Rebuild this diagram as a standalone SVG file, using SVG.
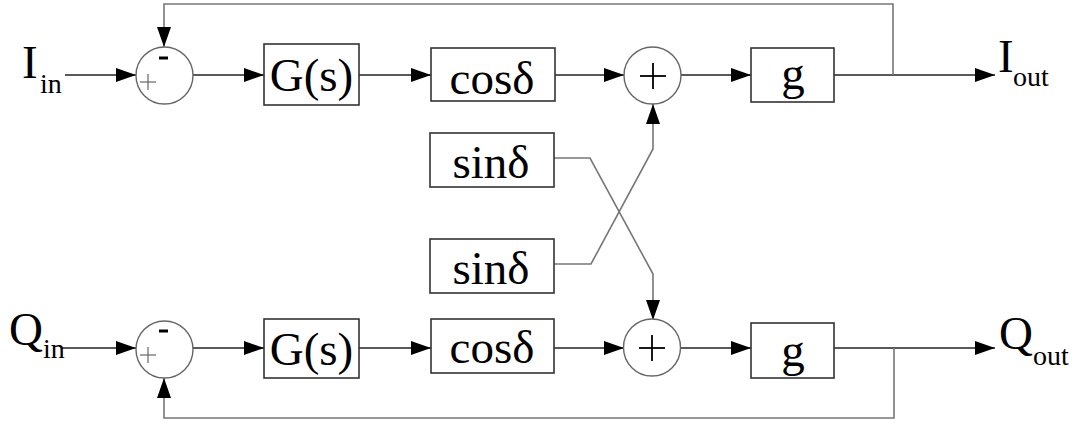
<svg xmlns="http://www.w3.org/2000/svg" width="1073" height="423" viewBox="0 0 1073 423">
<defs>
<marker id="ah" markerUnits="userSpaceOnUse" markerWidth="22" markerHeight="16" refX="20" refY="8" orient="auto">
<path d="M0,1 L20,8 L0,15 Z" fill="#000"/>
</marker>
<style>
.box{fill:#fff;stroke:#333;stroke-width:1.6}
.sum{fill:#fff;stroke:#666;stroke-width:1.4}
.ln{fill:none;stroke:#222;stroke-width:1.5}
.fb{fill:none;stroke:#777;stroke-width:1.6}
.t{font-family:"Liberation Serif","Times New Roman",serif;font-size:47px;fill:#000;text-anchor:middle}
.lbl{font-family:"Liberation Serif","Times New Roman",serif;font-size:47px;fill:#000}
.sub{font-size:28px}
.plus{stroke:#000;stroke-width:1.8}
.splus{stroke:#666;stroke-width:1.2}
.minus{stroke:#000;stroke-width:3}
</style>
</defs>

<g id="connectors">
<line class="ln" x1="65" y1="75" x2="136" y2="75" marker-end="url(#ah)"/>
<line class="ln" x1="193" y1="75" x2="264" y2="75" marker-end="url(#ah)"/>
<line class="ln" x1="359" y1="75" x2="431" y2="75" marker-end="url(#ah)"/>
<line class="ln" x1="555" y1="75" x2="624" y2="75" marker-end="url(#ah)"/>
<line class="ln" x1="681" y1="75" x2="751" y2="75" marker-end="url(#ah)"/>
<line class="ln" x1="834" y1="75" x2="995" y2="75" marker-end="url(#ah)"/>
<polyline class="fb" points="893,75 893,4 164,4 164,47" marker-end="url(#ah)"/>
<line class="ln" x1="62" y1="348" x2="136" y2="348" marker-end="url(#ah)"/>
<line class="ln" x1="193" y1="348" x2="264" y2="348" marker-end="url(#ah)"/>
<line class="ln" x1="359" y1="348" x2="431" y2="348" marker-end="url(#ah)"/>
<line class="ln" x1="554" y1="348" x2="624" y2="348" marker-end="url(#ah)"/>
<line class="ln" x1="681" y1="348" x2="751" y2="348" marker-end="url(#ah)"/>
<line class="ln" x1="834" y1="348" x2="995" y2="348" marker-end="url(#ah)"/>
<polyline class="fb" points="894,348 894,418 164,418 164,378" marker-end="url(#ah)"/>
<polyline class="fb" points="554,158 590,158 653,274 653,320" marker-end="url(#ah)"/>
<polyline class="fb" points="554,264 591,264 653,149 653,104" marker-end="url(#ah)"/>
</g>

<g id="I_in"><text class="lbl" x="22" y="78">I<tspan class="sub" x="40" y="93">in</tspan></text></g>
<g id="I_out"><text class="lbl" x="998" y="72">I<tspan class="sub" x="1013" y="86">out</tspan></text></g>
<g id="Q_in"><text class="lbl" x="9" y="345">Q<tspan class="sub" x="43" y="358">in</tspan></text></g>
<g id="Q_out"><text class="lbl" x="999" y="349">Q<tspan class="sub" x="1033" y="365">out</tspan></text></g>

<g id="sumI1">
<circle class="sum" cx="164.5" cy="75.5" r="28.5"/>
<line class="splus" x1="140" y1="82" x2="156" y2="82"/>
<line class="splus" x1="148" y1="74" x2="148" y2="90"/>
<line class="minus" x1="159" y1="58" x2="168" y2="58"/>
</g>
<g id="GsI"><rect class="box" x="264" y="44" width="95" height="61"/><text class="t" x="311.5" y="91">G(s)</text></g>
<g id="cosI"><rect class="box" x="431" y="48" width="124" height="53"/><text class="t" x="492" y="94">cosδ</text></g>
<g id="sumI2">
<circle class="sum" cx="652.5" cy="75.5" r="28.5"/>
<line class="plus" x1="640" y1="76" x2="666" y2="76"/>
<line class="plus" x1="653" y1="63" x2="653" y2="89"/>
</g>
<g id="gI"><rect class="box" x="751" y="48" width="83" height="54"/><text class="t" x="793" y="89">g</text></g>

<g id="sin1"><rect class="box" x="430" y="133" width="124" height="54"/><text class="t" x="491" y="178">sinδ</text></g>
<g id="sin2"><rect class="box" x="430" y="239" width="124" height="54"/><text class="t" x="491" y="284">sinδ</text></g>

<g id="sumQ1">
<circle class="sum" cx="164.5" cy="349.5" r="28.5"/>
<line class="splus" x1="140" y1="355" x2="156" y2="355"/>
<line class="splus" x1="148" y1="347" x2="148" y2="363"/>
<line class="minus" x1="159" y1="331" x2="168" y2="331"/>
</g>
<g id="GsQ"><rect class="box" x="264" y="319" width="95" height="59"/><text class="t" x="311.5" y="365">G(s)</text></g>
<g id="cosQ"><rect class="box" x="431" y="319" width="123" height="54"/><text class="t" x="492" y="363">cosδ</text></g>
<g id="sumQ2">
<circle class="sum" cx="652" cy="347.5" r="28.5"/>
<line class="plus" x1="639" y1="348" x2="665" y2="348"/>
<line class="plus" x1="652" y1="335" x2="652" y2="361"/>
</g>
<g id="gQ"><rect class="box" x="751" y="323" width="83" height="55"/><text class="t" x="793" y="366">g</text></g>
</svg>
